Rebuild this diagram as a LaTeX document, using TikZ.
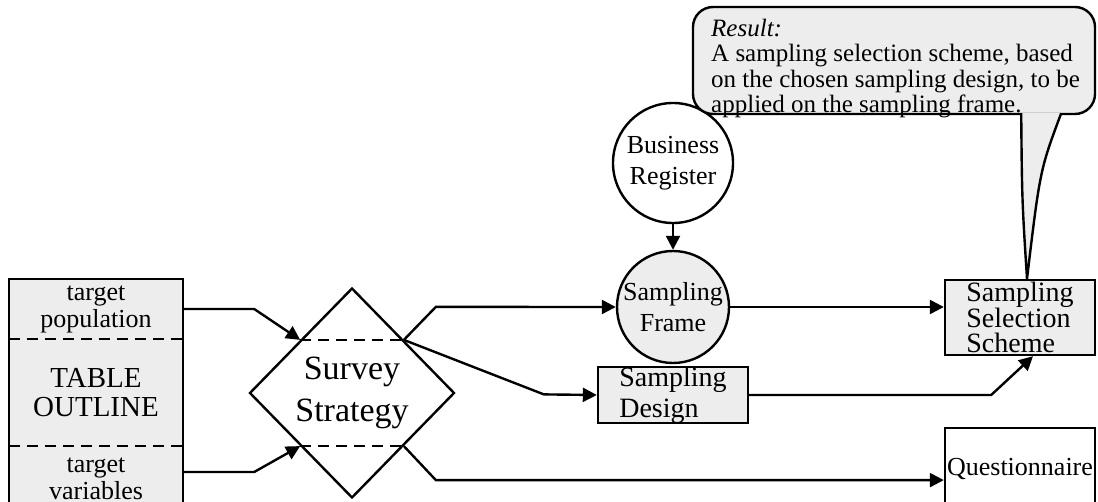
\documentclass[tikz,border=0pt]{standalone}
\usepackage{fontspec}
\setmainfont{Liberation Serif}
\usetikzlibrary{arrows.meta, shapes.geometric}

\begin{document}
\begin{tikzpicture}[>={Triangle[length=14pt, width=14pt]}, x=1pt, y=-1pt, line width=2.4pt]
        % Styles
        \tikzstyle{stipple} = [fill=black!7]
        \tikzstyle{box} = [rectangle, draw, stipple, minimum width=150pt, inner sep=0pt, align=left, font=\fontsize{28}{25.5}\selectfont]
        \tikzstyle{disc} = [circle, draw, inner sep=0pt, align=center, font=\fontsize{26}{31}\selectfont]
        \tikzstyle{part} = [rectangle, stipple, minimum width=172pt, inner sep=0pt, align=center, font=\fontsize{26}{27}\selectfont]
        \tikzstyle{flow} = [->]
        \tikzstyle{cut} = [dash pattern=on 11pt off 7pt, line width=1.6pt]

        \useasboundingbox (0,0) rectangle (1098,502);

        % Table outline
        \node[part, minimum height=58pt] (tp) at (96,309) {target\\population};
        \node[part, minimum height=109pt, font=\fontsize{29}{29}\selectfont] (tbl) [below of=tp, node distance=83.5pt] {TABLE\\OUTLINE};
        \node[part, minimum height=63pt] (tv) [below of=tbl, node distance=86pt] {target\\variables};
        \draw[cut] (tp.south west) -- (tp.south east);
        \draw[cut] (tv.north west) -- (tv.north east);
        \draw (tp.north west) rectangle (tv.south east);

        % Survey strategy
        \node[diamond, draw, fill=white, inner sep=0pt, minimum width=205pt, minimum height=210pt, align=center, font=\fontsize{34}{42}\selectfont] (ss) at (352,393) {Survey\\Strategy};
        \draw[cut] (ss.north west) -- (ss.north east);
        \draw[cut] (ss.south west) -- (ss.south east);

        % Frame and design
        \node[disc, fill=white, minimum size=120pt] (br) at (673,163) {Business\\Register};
        \node[disc, stipple, minimum size=112pt] (sf) [below of=br, node distance=144pt] {Sampling\\Frame};
        \node[box, minimum height=56pt, font=\fontsize{28}{31}\selectfont] (sd) [below of=sf, node distance=88pt] {Sampling\\Design};

        % Outputs
        \node[box, minimum height=75pt] (sss) at (1020,317.5) {Sampling\\Selection\\Scheme};
        \node[box, fill=white, minimum height=82pt, font=\fontsize{26}{30}\selectfont] (q) [below of=sss, node distance=151.5pt] {Questionnaire};

        % Result callout
        \node[draw, stipple, rounded corners=20pt, minimum width=402pt, minimum height=107pt] (res) at (894,60.5) {};
        \node[anchor=north west, inner sep=0pt, align=left, font=\fontsize{25}{25.3}\selectfont] (restext) at (710,18) {\textit{Result:}\\A sampling selection scheme, based\\on the chosen sampling design, to be\\applied on the sampling frame.};
        \coordinate (tl) at ([xshift=-75pt, yshift=2pt]res.south east);
        \coordinate (tr) at ([xshift=-35pt, yshift=2pt]res.south east);
        \coordinate (tip) at ([xshift=7pt]sss.north);
        \fill[stipple] (tl) .. controls (1022,200) .. (tip) .. controls (1040,170) .. (tr) -- cycle;
        \draw (tl) .. controls (1022,200) .. (tip) .. controls (1040,170) .. (tr);

        % Arrows
        \draw[flow] (tp.east) -- ++(71,0) -- (ss.north west);
        \draw[flow] ([yshift=6.5pt]tv.east) -- ++(71,0) -- (ss.south west);
        \draw[flow] (ss.north east) -- ++(32,-33) -- (sf.west);
        \draw[flow] (ss.north east) -- ++(140,54.5) -- (sd.west);
        \draw[flow] (ss.south east) -- ++(32,34) coordinate (qb) -- (qb -| q.west);
        \draw[flow] (br) -- (sf);
        \draw[flow] (sf.east) -- (sf.east -| sss.west);
        \draw[flow] (sd.east) -- ++(242,0) -- ([xshift=13pt]sss.south);
\end{tikzpicture}
\end{document}
